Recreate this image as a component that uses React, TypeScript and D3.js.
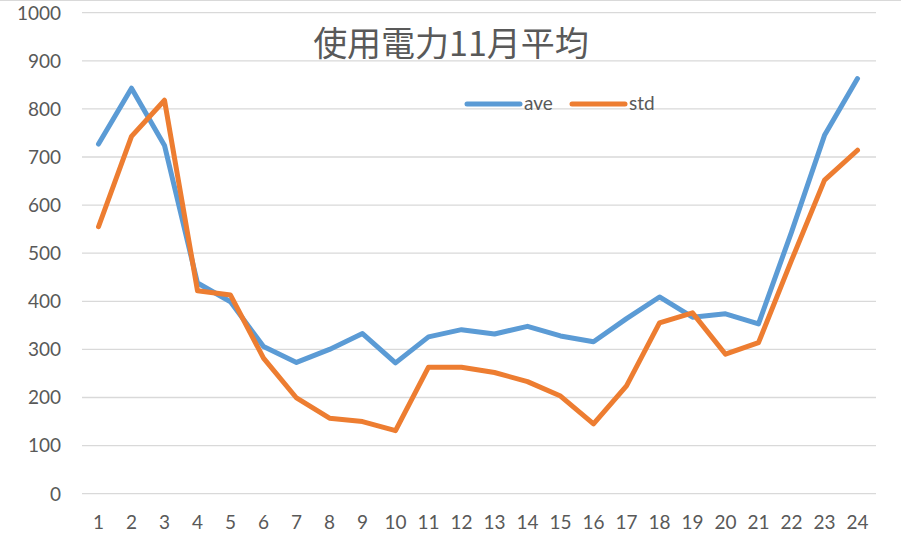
import React from "react";
import * as d3 from "d3";

const categories = ["1","2","3","4","5","6","7","8","9","10","11","12","13","14","15","16","17","18","19","20","21","22","23","24"];
const aveValues = [727, 843, 724, 438, 399, 306, 273, 300, 333, 272, 326, 341, 332, 348, 328, 316, 364, 409, 367, 374, 353, 544, 745, 863];
const stdValues = [555, 743, 818, 422, 413, 282, 199, 157, 150, 131, 263, 263, 252, 233, 203, 145, 224, 355, 376, 290, 314, 485, 652, 714];
const yTicks = [0, 100, 200, 300, 400, 500, 600, 700, 800, 900, 1000];
const seriesNames = ["ave", "std"];
const title = "使用電力11月平均";

const W = 901, H = 536;
const COLORS = ["#5B9BD5", "#ED7D31"];
const TEXT = "#595959";
const FONT = "Lato, 'Open Sans', sans-serif";

export default function App() {
  const x = d3.scaleBand<string>().domain(categories).range([82, 874]);
  const y = d3.scaleLinear().domain([0, 1000]).range([493.7, 12.7]);
  const cx = (c: string) => (x(c) as number) + x.bandwidth() / 2;
  const line = d3.line<number>().x((_, i) => cx(categories[i])).y((v) => y(v));
  const series = [aveValues, stdValues];
  return (
    <svg width={W} height={H} style={{ position: "absolute", left: 0, top: 0, background: "#fff" }}>
      <rect x={0} y={0} width={W} height={H} fill="#fff" />
      <line x1={0} x2={W} y1={0.5} y2={0.5} stroke="#d9d9d9" strokeWidth={1} />
      {yTicks.map((t) => (
        <g key={t}>
          <line x1={82} x2={876} y1={y(t)} y2={y(t)} stroke="#d9d9d9" strokeWidth={1.3} />
          <text x={61} y={y(t)} dy="0.36em" textAnchor="end" fontFamily={FONT} fontSize={19} fill={TEXT}>{t}</text>
        </g>
      ))}
      {categories.map((c) => (
        <text key={c} x={cx(c)} y={529} textAnchor="middle" fontFamily={FONT} fontSize={19} fill={TEXT}>{c}</text>
      ))}
      {series.map((s, i) => (
        <path key={i} d={line(s) || ""} fill="none" stroke={COLORS[i]} strokeWidth={5} strokeLinejoin="round" strokeLinecap="round" />
      ))}
      <text x={451} y={56} textAnchor="middle" fontFamily="'Noto Sans CJK JP', sans-serif" fontSize={34} fill={TEXT}>{title}</text>
      {seriesNames.map((n, i) => {
        const lx = 467 + i * 105;
        return (
          <g key={n}>
            <line x1={lx} x2={lx + 53} y1={104} y2={104} stroke={COLORS[i]} strokeWidth={5} strokeLinecap="round" />
            <text x={lx + 57} y={110} fontFamily={FONT} fontSize={19} fill={TEXT}>{n}</text>
          </g>
        );
      })}
    </svg>
  );
}
